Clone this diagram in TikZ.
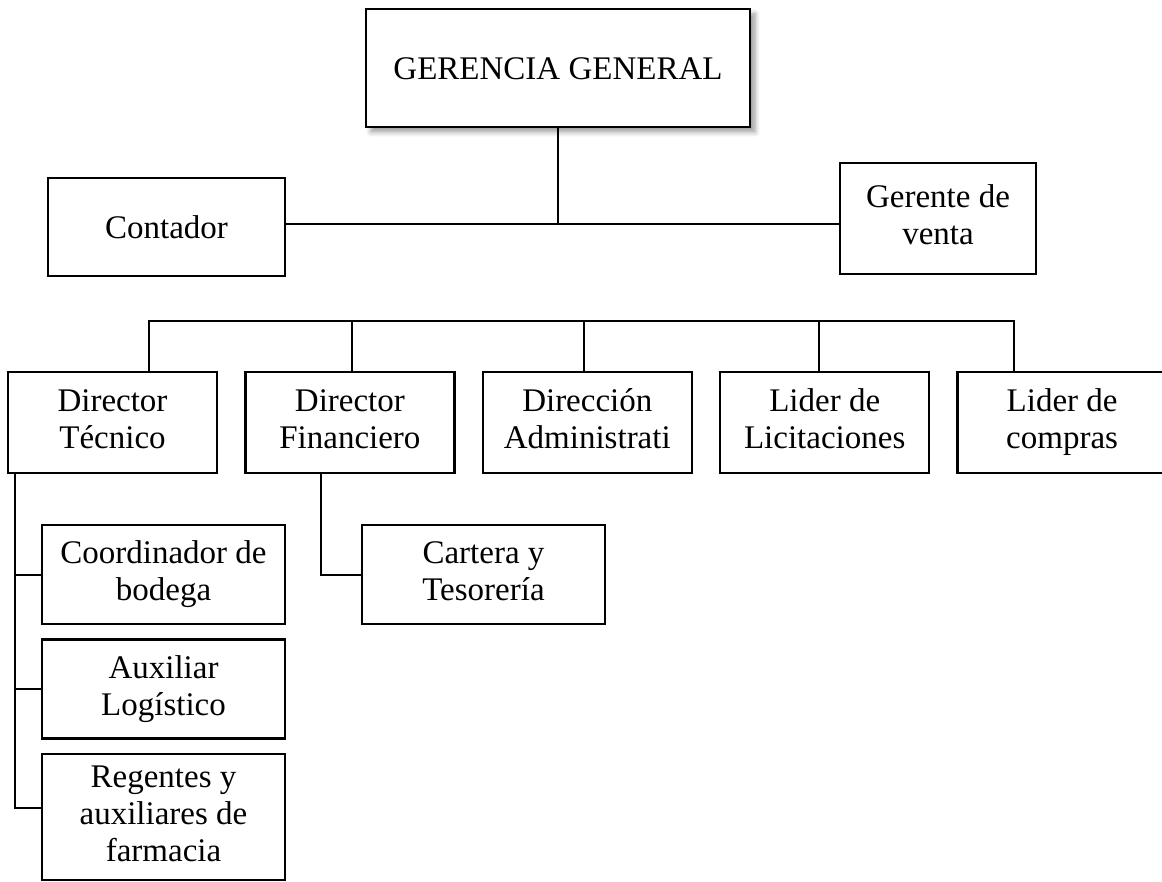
\documentclass[tikz,border=0pt]{standalone}
\usepackage{fontspec}
\setmainfont{Liberation Serif}
\usetikzlibrary{positioning, shadows.blur}

\begin{document}
\begin{tikzpicture}[x=1pt, y=-1pt, node distance=26pt,
    every node/.style={font=\fontsize{33}{37}\selectfont},
    cargo/.style={draw, line width=2.4pt, align=center, inner sep=0pt,
      minimum width=209pt, minimum height=101pt,
      execute at begin node={\rule{0pt}{31pt}},
      execute at end node={\rule[-7pt]{0pt}{7pt}}},
    subcargo/.style={cargo, minimum width=243pt, minimum height=99pt},
    enlace/.style={line width=2pt}]
  \useasboundingbox (0,0) rectangle (1162,882);
  % nivel superior
  \node[cargo, fill=white, minimum width=384pt, minimum height=118pt,
    blur shadow={shadow xshift=5pt, shadow yshift=-5pt, shadow blur steps=6,
      shadow blur radius=5pt, shadow opacity=40}] (gg) at (558,68) {GERENCIA GENERAL};
  \node[cargo, minimum width=237pt, minimum height=98pt] (contador) at (166.5,227) {Contador};
  \node[cargo, minimum width=196pt, minimum height=111pt] (gerente) at (938,218.5) {Gerente de\\venta};
  \coordinate (hub) at (558,224);
  \draw[enlace] (gg.south) -- (hub);
  \draw[enlace] (contador.east |- hub) -- (gerente.west |- hub);
  % directores
  \node[cargo] (dt) at (112.5,422.5) {Director\\Técnico};
  \node[cargo, right=of dt] (df) {Director\\Financiero};
  \node[cargo, right=of df] (da) {Dirección\\Administrati};
  \node[cargo, right=of da] (ll) {Lider de\\Licitaciones};
  \node[cargo, right=of ll] (lc) {Lider de\\compras};
  \coordinate (bus) at (580,320.7);
  \draw[enlace] ([xshift=36pt]dt.north) |- (bus) -| ([xshift=-48.5pt]lc.north);
  \foreach \n/\dx in {df/2.5, da/-3.5, ll/-5.5}
    \draw[enlace] ([xshift=\dx pt]\n.north) -- ([xshift=\dx pt]\n.north |- bus);
  % dependencias
  \node[subcargo] (bodega) at (163.5,574.5) {Coordinador de\\bodega};
  \node[subcargo, below=13pt of bodega] (logistico) {Auxiliar\\Logístico};
  \node[subcargo, below=13pt of logistico, minimum height=126pt,
    execute at begin node={\rule{0pt}{45pt}}] (regentes) {Regentes y\\auxiliares de\\farmacia};
  \node[subcargo] (cartera) at (483.5,574.5) {Cartera y\\Tesorería};
  \draw[enlace] ([xshift=8pt]dt.south west) |- ([yshift=9pt]regentes.west);
  \draw[enlace] ([xshift=8pt]dt.south west |- bodega.west) -- (bodega.west);
  \draw[enlace] ([xshift=8pt]dt.south west |- logistico.west) -- (logistico.west);
  \draw[enlace] ([xshift=-28.5pt]df.south) |- (cartera.west);
\end{tikzpicture}
\end{document}
